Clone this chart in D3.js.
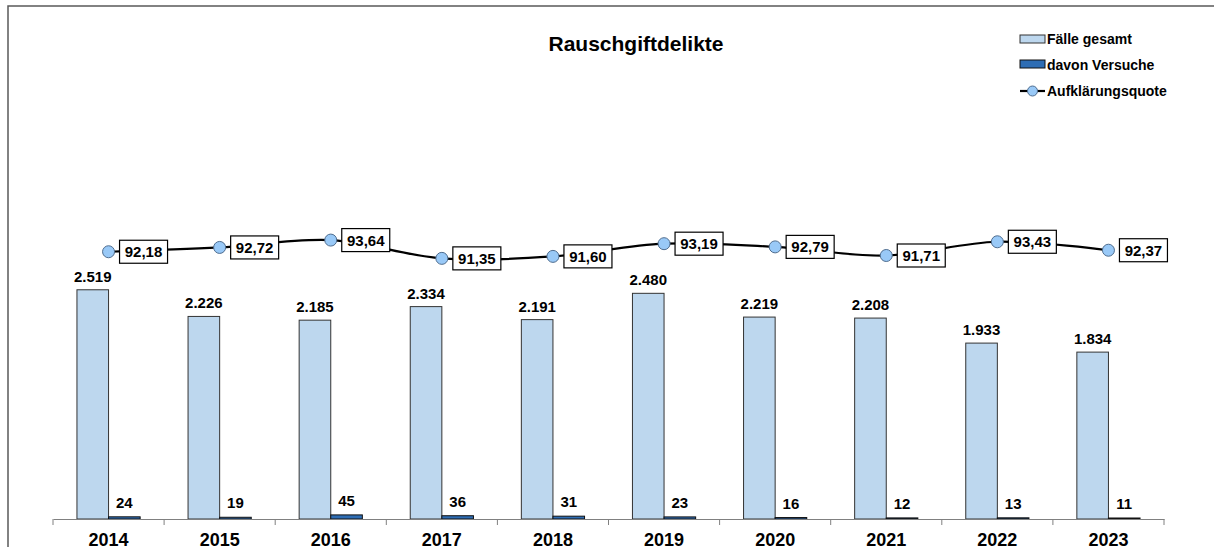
<!DOCTYPE html>
<html>
<head>
<meta charset="utf-8">
<script src="https://cdn.jsdelivr.net/npm/d3@7"></script>
<style>
  body { margin: 0; background: #fff; }
  svg { display: block; font-family: Arial, "Liberation Sans", sans-serif; }
</style>
</head>
<body>
<svg width="1214" height="547"></svg>
<script>
var years = ["2014", "2015", "2016", "2017", "2018", "2019", "2020", "2021", "2022", "2023"];
var faelle = [2519, 2226, 2185, 2334, 2191, 2480, 2219, 2208, 1933, 1834];
var versuche = [24, 19, 45, 36, 31, 23, 16, 12, 13, 11];
var quote = [92.18, 92.72, 93.64, 91.35, 91.60, 93.19, 92.79, 91.71, 93.43, 92.37];

var plotLeft = 53,
    plotRight = 1164,
    plotTop = 64,
    plotBottom = 519,
    barW = 31.6;

var de = d3.formatLocale({decimal: ",", thousands: ".", grouping: [3], currency: ["", " €"]});
var fmtInt = de.format(",d"),
    fmtDec = de.format(",.2f");

var svg = d3.select("svg");

// frame (cropped chart border)
svg.append("path")
    .attr("d", "M8,547V6H1214")
    .attr("fill", "none")
    .attr("stroke", "#595959")
    .attr("stroke-width", 1.5);

var x = d3.scaleBand().domain(years).range([plotLeft, plotRight]);
var y = d3.scaleLinear().domain([0, 5000]).range([plotBottom, plotTop]);
var y2 = d3.scaleLinear().domain([58.7, 115.7]).range([plotBottom, plotTop]);

// bars
var g = svg.append("g");
g.selectAll("rect.f")
    .data(faelle)
  .enter().append("rect")
    .attr("class", "f")
    .attr("x", function(d, i) { return x(years[i]) + x.bandwidth() / 2 - barW; })
    .attr("y", function(d) { return y(d); })
    .attr("width", barW)
    .attr("height", function(d) { return plotBottom - y(d); })
    .attr("fill", "#bdd7ee")
    .attr("stroke", "#333")
    .attr("stroke-width", 1);

g.selectAll("rect.v")
    .data(versuche)
  .enter().append("rect")
    .attr("class", "v")
    .attr("x", function(d, i) { return x(years[i]) + x.bandwidth() / 2; })
    .attr("y", function(d) { return y(d); })
    .attr("width", barW)
    .attr("height", function(d) { return plotBottom - y(d); })
    .attr("fill", "#2e6db4")
    .attr("stroke", "#111")
    .attr("stroke-width", 1);

g.selectAll("text.fl")
    .data(faelle)
  .enter().append("text")
    .attr("x", function(d, i) { return x(years[i]) + x.bandwidth() / 2 - barW / 2; })
    .attr("y", function(d) { return y(d) - 8; })
    .attr("text-anchor", "middle")
    .style("font-size", "15px")
    .style("font-weight", "bold")
    .text(function(d) { return fmtInt(d); });

g.selectAll("text.vl")
    .data(versuche)
  .enter().append("text")
    .attr("x", function(d, i) { return x(years[i]) + x.bandwidth() / 2 + barW / 2; })
    .attr("y", function(d) { return y(d) - 9; })
    .attr("text-anchor", "middle")
    .style("font-size", "15px")
    .style("font-weight", "bold")
    .text(function(d) { return fmtInt(d); });

// x axis
var axis = svg.append("g")
    .attr("transform", "translate(0," + plotBottom + ")")
    .call(d3.axisBottom(x).tickSize(0).tickPadding(0));
axis.select(".domain").attr("stroke", "#808080");
axis.selectAll("text")
    .attr("y", 26.5)
    .attr("dy", null)
    .style("font-size", "18px")
    .style("font-weight", "bold")
    .style("font-family", "Arial, 'Liberation Sans', sans-serif")
    .attr("fill", "#000");
axis.selectAll("line.sep")
    .data(d3.range(years.length + 1))
  .enter().append("line")
    .attr("class", "sep")
    .attr("x1", function(i) { return plotLeft + i * x.step(); })
    .attr("x2", function(i) { return plotLeft + i * x.step(); })
    .attr("y1", 0)
    .attr("y2", 6)
    .attr("stroke", "#808080");

// line
var cx = function(i) { return x(years[i]) + x.bandwidth() / 2; };
var line = d3.line()
    .x(function(d, i) { return cx(i); })
    .y(function(d) { return y2(d); })
    .curve(d3.curveCatmullRom.alpha(0.5));

svg.append("path")
    .datum(quote)
    .attr("d", line)
    .attr("fill", "none")
    .attr("stroke", "#000")
    .attr("stroke-width", 2.2);

var pts = svg.append("g").selectAll("g")
    .data(quote)
  .enter().append("g")
    .attr("transform", function(d, i) { return "translate(" + cx(i) + "," + y2(d) + ")"; });

pts.append("circle")
    .attr("r", 6)
    .attr("fill", "#99c9f7")
    .attr("stroke", "#4f6d8f")
    .attr("stroke-width", 1);

pts.append("rect")
    .attr("x", 11)
    .attr("y", -11.5)
    .attr("width", 48)
    .attr("height", 23)
    .attr("fill", "#fff")
    .attr("stroke", "#000")
    .attr("stroke-width", 1.2);

pts.append("text")
    .attr("x", 35)
    .attr("y", 5.5)
    .attr("text-anchor", "middle")
    .style("font-size", "15px")
    .style("font-weight", "bold")
    .text(function(d) { return fmtDec(d); });

// title
svg.append("text")
    .attr("x", 636)
    .attr("y", 51)
    .attr("text-anchor", "middle")
    .style("font-size", "21px")
    .style("font-weight", "bold")
    .text("Rauschgiftdelikte");

// legend
var legend = svg.append("g").attr("transform", "translate(1020,0)");
legend.append("rect").attr("x", 0).attr("y", 35).attr("width", 25).attr("height", 8)
    .attr("fill", "#bdd7ee").attr("stroke", "#333");
legend.append("rect").attr("x", 0).attr("y", 60).attr("width", 25).attr("height", 8)
    .attr("fill", "#2e6db4").attr("stroke", "#111");
legend.append("line").attr("x1", 0).attr("x2", 25).attr("y1", 91).attr("y2", 91)
    .attr("stroke", "#000").attr("stroke-width", 2.2);
legend.append("circle").attr("cx", 12.5).attr("cy", 91).attr("r", 5)
    .attr("fill", "#99c9f7").attr("stroke", "#4f6d8f");
legend.selectAll("text")
    .data(["Fälle gesamt", "davon Versuche", "Aufklärungsquote"])
  .enter().append("text")
    .attr("x", 27)
    .attr("y", function(d, i) { return 44 + i * 26; })
    .style("font-size", "14px")
    .style("font-weight", "bold")
    .text(function(d) { return d; });
</script>
</body>
</html>
